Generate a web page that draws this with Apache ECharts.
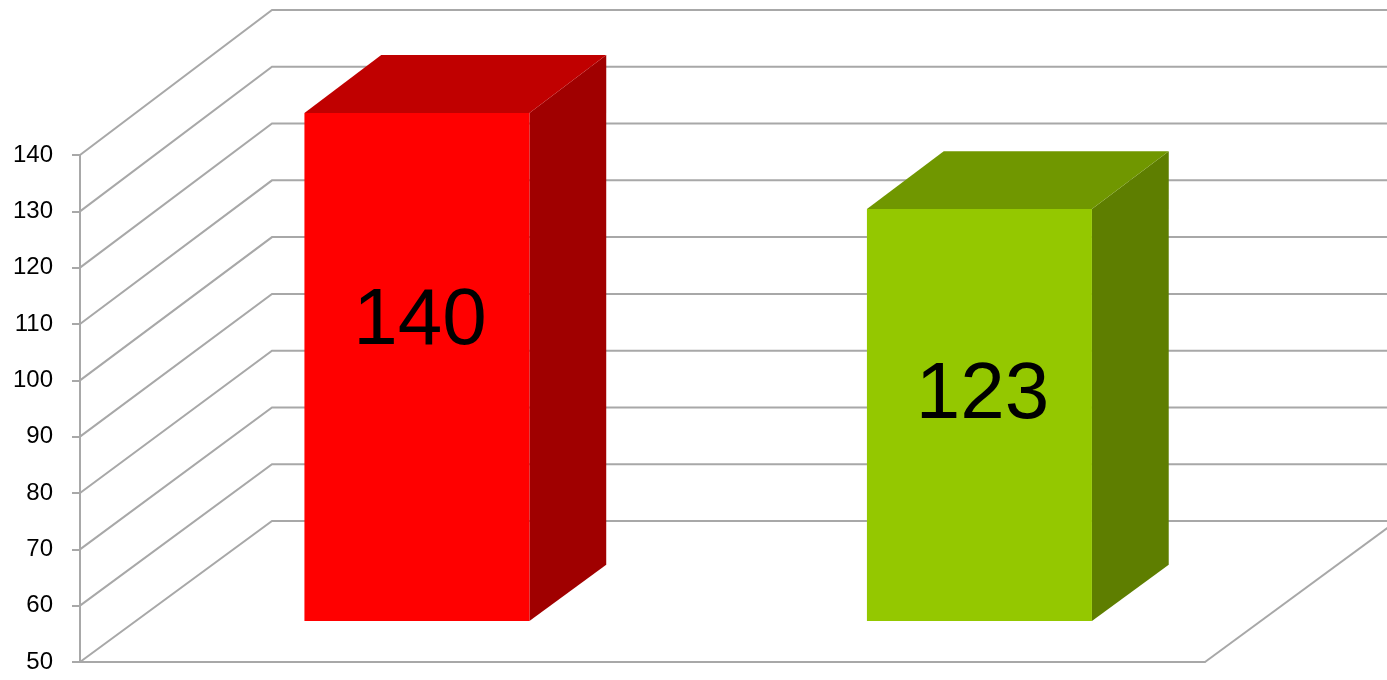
<!DOCTYPE html>
<html>
<head>
<meta charset="utf-8">
<script src="https://cdn.jsdelivr.net/npm/echarts@6/dist/echarts.min.js"></script>
<style>html,body{margin:0;padding:0;background:#fff;}#c{width:1387px;height:680px;}</style>
</head>
<body>
<div id="c"></div>
<script>
// ---- data ----
const categories = ['Series A', 'Series B'];
const values = [140, 123];
const yTicks = [50, 60, 70, 80, 90, 100, 110, 120, 130, 140];
const yMin = 50, yMax = 140, yStep = 10;

// ---- styles ----
const palettes = [
  { front: '#FF0000', top: '#C00000', side: '#A00000' },
  { front: '#94C800', top: '#709700', side: '#5E7E00' }
];
const gridColor = '#A8A8A8';
const DX = 192;          // depth offset in x (px)
const D0 = 0.29, D1 = 0.69; // bar depth span

const chart = echarts.init(document.getElementById('c'));

function dyAt(yf, y50, y140) {
  return -141 - 4 * (y50 - yf) / (y50 - y140);
}

const option = {
  animation: false,
  grid: { left: 80, right: 182, top: 155, bottom: 18, containLabel: false },
  xAxis: {
    type: 'category', data: categories,
    axisLine: { show: true, lineStyle: { color: gridColor, width: 2 } },
    axisTick: { show: false }, axisLabel: { show: false }, splitLine: { show: false }
  },
  yAxis: {
    type: 'value', min: yMin, max: yMax, interval: yStep,
    axisLine: { show: true, lineStyle: { color: gridColor, width: 2 } },
    axisTick: { show: true, length: 8, lineStyle: { color: gridColor, width: 2 } },
    axisLabel: { margin: 27, fontSize: 24, color: '#000', fontFamily: 'Liberation Sans' },
    splitLine: { show: false }
  },
  series: [
    {
      type: 'custom', z: 1, silent: true,
      data: yTicks.map(v => [0, v]),
      renderItem: function (params, api) {
        const v = api.value(1);
        const cs = params.coordSys;
        const yf = api.coord([0, v])[1];
        const y50 = api.coord([0, yMin])[1], y140 = api.coord([0, yMax])[1];
        const dy = dyAt(yf, y50, y140);
        const x0 = cs.x;
        const children = [{
          type: 'polyline',
          shape: { points: [[x0, yf], [x0 + DX, yf + dy], [api.getWidth() + 5, yf + dy]] },
          style: { stroke: gridColor, lineWidth: 2, fill: null }
        }];
        if (v === yMin) {
          const xr = cs.x + cs.width;
          children.push({
            type: 'line',
            shape: { x1: xr, y1: yf, x2: xr + DX, y2: yf + dy },
            style: { stroke: gridColor, lineWidth: 2 }
          });
        }
        return { type: 'group', children: children };
      }
    },
    {
      type: 'custom', z: 5, silent: true,
      data: values.map((v, i) => [i, v]),
      renderItem: function (params, api) {
        const i = api.value(0), v = api.value(1);
        const top = api.coord([i, v]);
        const base = api.coord([i, yMin]);
        const y50 = base[1], y140 = api.coord([i, yMax])[1];
        const hw = api.size([1, 0])[0] * 0.2;
        const xl = top[0] - hw, xr = top[0] + hw;
        const P = (x, y, d) => [x + DX * d, y + d * dyAt(y, y50, y140)];
        const pal = palettes[i % palettes.length];
        const f = [P(xl, top[1], D0), P(xr, top[1], D0), P(xr, base[1], D0), P(xl, base[1], D0)];
        const t = [P(xl, top[1], D0), P(xr, top[1], D0), P(xr, top[1], D1), P(xl, top[1], D1)];
        const s = [P(xr, top[1], D0), P(xr, top[1], D1), P(xr, base[1], D1), P(xr, base[1], D0)];
        const fy = f[0][1], by = f[2][1];
        return {
          type: 'group',
          children: [
            { type: 'polygon', shape: { points: s }, style: { fill: pal.side } },
            { type: 'polygon', shape: { points: t }, style: { fill: pal.top } },
            { type: 'polygon', shape: { points: f }, style: { fill: pal.front } },
            {
              type: 'text',
              x: (f[0][0] + f[1][0]) / 2 + 3, y: fy + 0.23 * (by - fy) + 92,
              style: {
                text: String(v), fontSize: 80, fontFamily: 'Liberation Sans',
                fill: '#000', align: 'center', verticalAlign: 'middle'
              }
            }
          ]
        };
      }
    }
  ]
};
chart.setOption(option);
</script>
</body>
</html>
